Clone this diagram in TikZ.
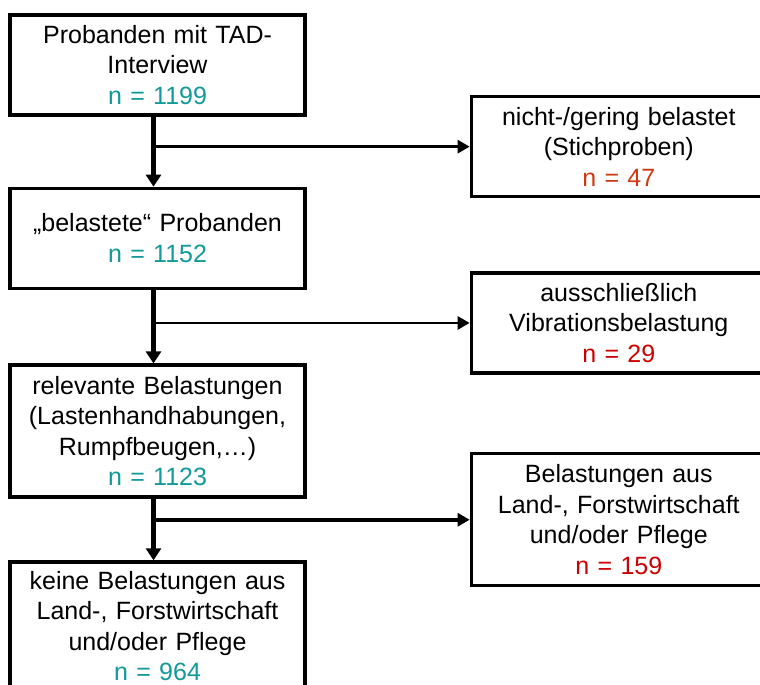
\documentclass[tikz,border=0pt]{standalone}
\usepackage{fontspec}
\setmainfont{Liberation Sans}
\usepackage{tikz}
\usetikzlibrary{positioning, arrows.meta}
\definecolor{nteal}{HTML}{12999A}
\definecolor{norange}{HTML}{D03A10}
\definecolor{nred}{HTML}{CC0000}
\tikzstyle{stage} = [rectangle, 
minimum width=295pt, 
minimum height=100pt, 
text centered, 
text width=289pt, 
inner sep=3pt, 
line width=3.3pt, 
draw=black, 
fill=white]
\tikzstyle{drop} = [stage, 
anchor=west]
\tikzstyle{flow} = [line width=4.6pt, 
-{Triangle[length=12pt, width=15pt]}]
\tikzstyle{branch} = [line width=2.7pt, 
-{Triangle[length=12pt, width=13pt]}]

\begin{document}
\begin{tikzpicture}[x=1pt, y=1pt, node distance=70pt]
\tikzstyle{every node}=[font=\fontsize{25}{30.5}\selectfont]
\useasboundingbox (0,0) rectangle (760,-685);
\node (tad) [stage] at (157.5,-65) {Probanden mit TAD-\\Interview\\\textcolor{nteal}{n = 1199}};
\node (loaded) [stage, below=70pt of tad] {„belastete“ Probanden\\\textcolor{nteal}{n = 1152}};
\node (relevant) [stage, minimum height=132pt, below=73.5pt of loaded] {relevante Belastungen\\(Lastenhandhabungen,\\Rumpfbeugen,…)\\\textcolor{nteal}{n = 1123}};
\node (final) [stage, minimum height=128pt, below=61.5pt of relevant] {keine Belastungen aus\\Land-, Forstwirtschaft\\und/oder Pflege\\\textcolor{nteal}{n = 964}};

% branch points on the main flow
\coordinate (j1) at ([xshift=-4pt, yshift=-30pt]tad.south);
\coordinate (j2) at ([xshift=-4pt, yshift=-33pt]loaded.south);
\coordinate (j3) at ([xshift=-4pt, yshift=-21pt]relevant.south);

\node (sample) [drop] at ([xshift=163pt]j1 -| tad.east) {nicht-/gering belastet\\(Stichproben)\\\textcolor{norange}{n = 47}};
\node (vibration) [drop] at ([xshift=163pt]j2 -| tad.east) {ausschließlich\\Vibrationsbelastung\\\textcolor{nred}{n = 29}};
\node (agri) [drop, minimum height=132pt] at ([xshift=163pt]j3 -| tad.east) {Belastungen aus\\Land-, Forstwirtschaft\\und/oder Pflege\\\textcolor{nred}{n = 159}};

\draw [flow] ([xshift=-4pt]tad.south) -- ([xshift=-4pt]loaded.north);
\draw [flow] ([xshift=-4pt]loaded.south) -- ([xshift=-4pt]relevant.north);
\draw [flow] ([xshift=-4pt]relevant.south) -- ([xshift=-4pt]final.north);
\draw [branch] (j1) -- (sample.west);
\draw [branch] (j2) -- (vibration.west);
\draw [branch, line width=4pt] (j3) -- (agri.west);
\end{tikzpicture}
\end{document}
